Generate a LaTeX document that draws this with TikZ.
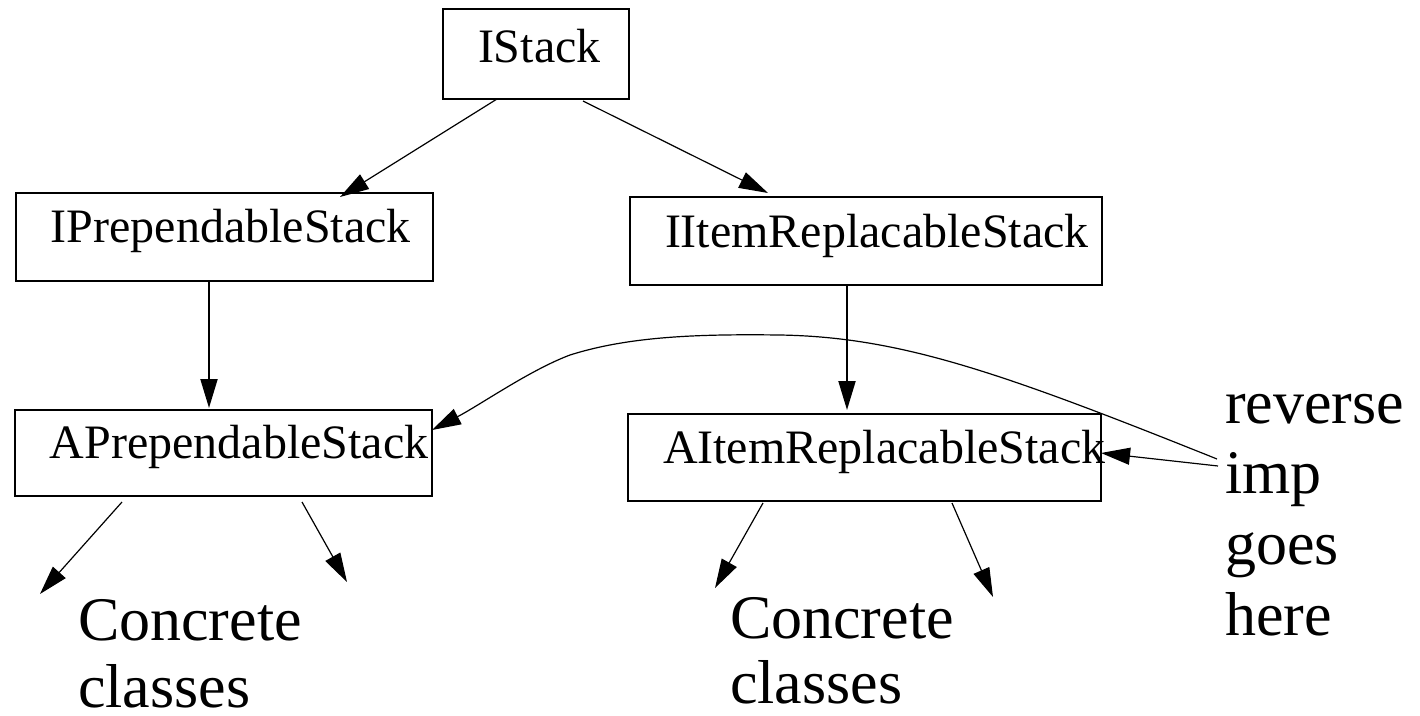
\documentclass[tikz,border=0pt]{standalone}
\usepackage{fontspec}
\setmainfont{Liberation Serif}
\usetikzlibrary{arrows.meta}

% class box label: fixed-width box with the name set from the left
\newcommand{\clslabel}[2]{\makebox[#1pt][l]{\hspace*{35pt}#2}}

\begin{document}
\begin{tikzpicture}[x=1pt, y=-1pt,
  clsbox/.style={draw, line width=2.5pt, inner sep=0pt, outer sep=0pt,
    anchor=north west, font=\fontsize{48}{56}\selectfont},
  bigtext/.style={inner sep=0pt, outer sep=0pt, anchor=base west},
  tip/.style={-{Triangle[length=29pt, width=17pt]}},
  thick link/.style={tip, line width=2pt},
  thin link/.style={tip, line width=1.2pt},
]
\fill[white] (0,0) rectangle (1420,715);
\useasboundingbox (0,0) rectangle (1420,715);

% class boxes
\node[clsbox, text height=53pt, text depth=37pt] (istack) at (443,9) {\clslabel{186}{IStack}};
\node[clsbox, text height=49pt, text depth=39pt] (iprep)  at (16,193) {\clslabel{417}{IPrependableStack}};
\node[clsbox, text height=50pt, text depth=38pt] (iitem)  at (630,197) {\clslabel{472}{IItemReplacableStack}};
\node[clsbox, text height=48pt, text depth=38pt] (aprep)  at (15,410) {\clslabel{417}{APrependableStack}};
\node[clsbox, text height=49pt, text depth=38pt] (aitem)  at (628,414) {\clslabel{473}{AItemReplacableStack}};

% free text
\node[bigtext] (concL) at (78,640)
  {\parbox[t]{260pt}{\fontsize{62}{67}\selectfont\raggedright Concrete\\classes}};
\node[bigtext] (concR) at (730,638)
  {\parbox[t]{260pt}{\fontsize{62}{65}\selectfont\raggedright Concrete\\classes}};
\node[bigtext] (rev) at (1225,423)
  {\parbox[t]{200pt}{\fontsize{62}{70.7}\selectfont\raggedright reverse\\imp\\goes\\here}};

% loose arrow ends
\coordinate (c1) at (40,594);
\coordinate (c2) at (347,582);
\coordinate (c3) at (715,588);
\coordinate (c4) at (993,597);
\coordinate (revA) at ([xshift=-8pt, yshift=-36pt]rev.base west);
\coordinate (revB) at ([xshift=-7pt, yshift=-43pt]rev.base west);

% inheritance links
\draw[thin link] ([xshift=54pt]istack.south west) -- ([xshift=324pt, yshift=-4pt]iprep.north west);
\draw[thin link] ([xshift=140pt, yshift=-2pt]istack.south west) -- ([xshift=138pt, yshift=4pt]iitem.north west);
\draw[thick link] ([xshift=193pt]iprep.south west) -- ([xshift=194pt, yshift=2pt]aprep.north west);
\draw[thick link] ([xshift=217pt]iitem.south west) -- ([xshift=219pt, yshift=4pt]aitem.north west);

% links to concrete classes
\draw[thin link] ([xshift=107pt, yshift=-6pt]aprep.south west) -- (c1);
\draw[thin link] ([xshift=287pt, yshift=-6pt]aprep.south west) -- (c2);
\draw[thin link] ([xshift=135pt, yshift=-2pt]aitem.south west) -- (c3);
\draw[thin link] ([xshift=324pt, yshift=-2pt]aitem.south west) -- (c4);

% reverse implementation links
\draw[thin link] (revA) .. controls (1000,372) and (900,337) .. (780,335)
  .. controls (700,334) and (630,336) .. (570,355)
  .. controls (530,370) and (480,405) .. ([yshift=-20pt]aprep.north east);
\draw[thin link] (revB) -- ([yshift=4.5pt]aitem.east);
\end{tikzpicture}
\end{document}
